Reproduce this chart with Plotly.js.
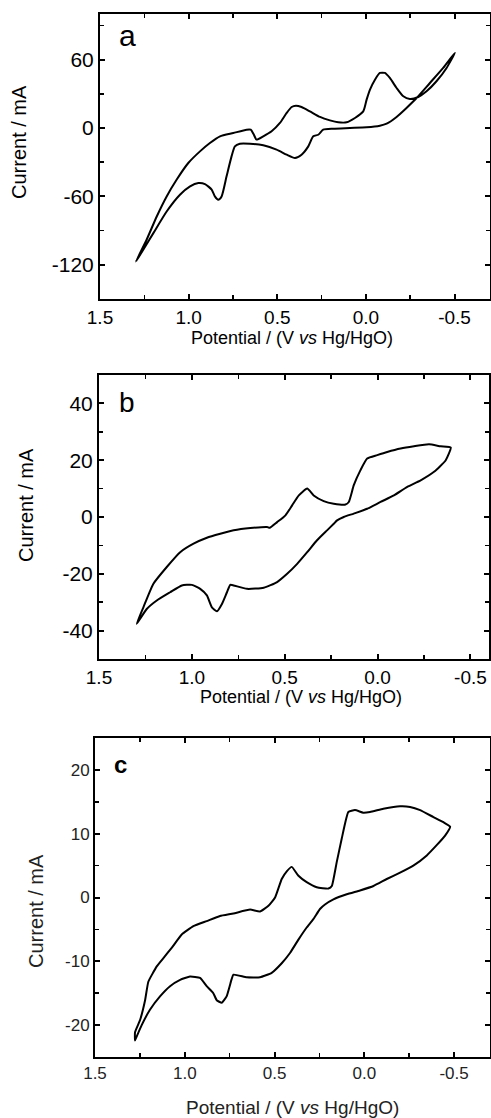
<!DOCTYPE html>
<html>
<head>
<meta charset="utf-8">
<script src="https://cdn.plot.ly/plotly-3.0.1.min.js"></script>
<style>html,body{margin:0;padding:0;background:#fff;}#chart{width:491px;height:1118px;}</style>
</head>
<body>
<div id="chart"></div>
<script>
// Panel a: cyclic voltammogram (closed loop), potential in V vs Hg/HgO, current in mA
const potA = [1.297,1.237,1.180,1.124,1.068,1.002,0.936,0.880,0.823,0.748,0.673,0.650,0.632,0.617,0.579,0.532,0.485,0.447,0.419,0.395,0.363,0.316,0.259,0.203,0.156,0.109,0.062,0.015,-0.004,-0.023,-0.051,-0.079,-0.107,-0.135,-0.173,-0.211,-0.248,-0.295,-0.342,-0.398,-0.455,-0.502,
  -0.436,-0.361,-0.286,-0.229,-0.173,-0.117,-0.079,-0.004,0.090,0.184,0.241,0.269,0.297,0.325,0.363,0.400,0.447,0.504,0.579,0.654,0.711,0.739,0.758,0.786,0.814,0.833,0.852,0.870,0.908,0.945,0.992,1.049,1.124,1.199,1.256,1.297];
const currA = [-117.1,-98.0,-77.6,-60.0,-45.4,-30.7,-20.5,-13.2,-7.3,-4.4,-1.5,-1.5,-5.9,-10.2,-7.3,-2.9,4.4,13.2,18.4,19.6,18.4,14.6,9.7,6.7,5.0,5.0,8.8,14.6,24.9,33.7,42.4,48.3,48.3,43.9,35.1,27.8,25.5,27.2,32.2,41.0,52.7,65.9,
  52.7,39.5,26.3,17.6,9.7,3.8,2.0,0.6,0.0,-0.6,-1.5,-5.9,-7.3,-16.1,-23.4,-26.3,-23.4,-19.0,-15.2,-13.8,-13.8,-16.1,-24.9,-42.4,-60.0,-62.9,-60.0,-54.1,-49.2,-48.3,-51.2,-58.5,-73.2,-92.2,-106.8,-117.1];

// Panel b
const potB = [1.297,1.261,1.207,1.135,1.063,0.991,0.919,0.847,0.775,0.685,0.595,0.581,0.541,0.496,0.460,0.424,0.379,0.344,0.290,0.236,0.173,0.155,0.128,0.092,0.056,0.002,-0.052,-0.124,-0.196,-0.277,-0.340,-0.394,
  -0.367,-0.304,-0.232,-0.160,-0.088,-0.016,0.056,0.128,0.182,0.218,0.236,0.272,0.326,0.379,0.433,0.487,0.541,0.613,0.703,0.775,0.793,0.811,0.838,0.865,0.892,0.919,0.955,1.000,1.054,1.117,1.189,1.243,1.297];
const currB = [-37.6,-31.8,-23.5,-17.6,-12.4,-9.4,-7.3,-5.9,-4.7,-3.9,-3.5,-3.8,-1.8,0.6,4.1,7.6,10.0,7.6,5.6,4.7,4.4,5.3,11.2,16.5,20.6,21.8,22.9,24.1,24.9,25.6,24.9,24.5,
  20.0,15.9,12.9,10.6,7.6,5.3,2.9,1.2,0.0,-1.2,-2.4,-4.7,-8.2,-12.4,-16.5,-20.0,-22.9,-24.9,-25.3,-24.1,-23.9,-26.5,-30.6,-33.2,-31.8,-27.6,-25.3,-23.9,-24.1,-26.5,-29.4,-32.4,-37.6];

// Panel c
const potC = [1.277,1.277,1.249,1.221,1.203,1.156,1.119,1.073,1.017,0.952,0.878,0.804,0.729,0.636,0.581,0.534,0.497,0.460,0.432,0.404,0.367,0.321,0.265,0.200,0.181,0.154,0.126,0.089,0.052,0.006,-0.032,-0.106,-0.199,-0.255,-0.311,-0.385,-0.441,-0.478,
  -0.450,-0.403,-0.348,-0.273,-0.199,-0.125,-0.051,0.024,0.098,0.172,0.219,0.247,0.284,0.321,0.367,0.414,0.460,0.516,0.581,0.655,0.729,0.739,0.767,0.794,0.822,0.841,0.878,0.915,0.971,1.026,1.082,1.138,1.194,1.240,1.268,1.277];
const currC = [-22.4,-21.1,-19.2,-16.1,-13.2,-10.8,-9.5,-7.9,-5.8,-4.5,-3.7,-2.9,-2.5,-1.9,-2.2,-1.3,0.0,2.9,4.1,4.8,3.4,2.4,1.6,1.4,1.8,5.5,9.2,13.4,13.7,13.3,13.4,13.9,14.3,14.2,13.7,12.6,11.8,11.1,
  9.7,8.2,6.6,5.0,3.9,2.9,1.8,1.1,0.5,-0.3,-1.1,-1.8,-3.4,-4.7,-6.6,-8.7,-10.3,-11.8,-12.5,-12.5,-12.1,-12.8,-15.5,-16.5,-16.1,-15.0,-13.9,-12.6,-12.4,-12.9,-13.9,-15.5,-17.6,-20.0,-21.8,-22.4];

const xTicks = [1.5, 1.0, 0.5, 0.0, -0.5];
const xTickText = ["1.5", "1.0", "0.5", "0.0", "-0.5"];
const yTicksA = [60, 0, -60, -120];
const yTicksB = [40, 20, 0, -20, -40];
const yTicksC = [20, 10, 0, -10, -20];
const panelLabels = ["a", "b", "c"];
const xTitle = "Potential / (V <i>vs</i> Hg/HgO)";
const yTitle = "Current / mA";

const FONT = "Liberation Sans, Arial, sans-serif";

function xAxis(domain, range, anchor, fontSize, color) {
  return {
    domain: domain, range: range, anchor: anchor,
    tickmode: "array", tickvals: xTicks, ticktext: xTickText,
    ticks: "inside", ticklen: 5, tickwidth: 2, tickcolor: "#000",
    minor: {dtick: 0.25, tick0: 0, ticks: "inside", ticklen: 4, tickwidth: 1.5, tickcolor: "#000"},
    showline: true, linewidth: 2, linecolor: "#000", mirror: "ticks",
    showgrid: false, zeroline: false,
    tickfont: {family: FONT, size: fontSize, color: color}
  };
}
function yAxis(domain, range, anchor, vals, dminor, fontSize, color) {
  return {
    domain: domain, range: range, anchor: anchor,
    tickmode: "array", tickvals: vals, ticktext: vals.map(v => String(v)),
    ticks: "inside", ticklen: 5, tickwidth: 2, tickcolor: "#000",
    minor: {dtick: dminor, tick0: 0, ticks: "inside", ticklen: 4, tickwidth: 1.5, tickcolor: "#000"},
    showline: true, linewidth: 2, linecolor: "#000", mirror: "ticks",
    showgrid: false, zeroline: false,
    tickfont: {family: FONT, size: fontSize, color: color}
  };
}

const H = 1118, W = 491;
const px = v => v / W;
const py = v => 1 - v / H;

const traces = [
  {x: potA, y: currA, xaxis: "x", yaxis: "y", mode: "lines", line: {color: "#000", width: 2, shape: "spline", smoothing: 0.6}, showlegend: false, hoverinfo: "skip"},
  {x: potB, y: currB, xaxis: "x2", yaxis: "y2", mode: "lines", line: {color: "#000", width: 2, shape: "spline", smoothing: 0.5}, showlegend: false, hoverinfo: "skip"},
  {x: potC, y: currC, xaxis: "x3", yaxis: "y3", mode: "lines", line: {color: "#000", width: 2, shape: "spline", smoothing: 0.4}, showlegend: false, hoverinfo: "skip"}
];

function ann(text, x, y, size, opts) {
  return Object.assign({text: text, x: px(x), y: py(y), xref: "paper", yref: "paper",
    xanchor: "center", yanchor: "middle", showarrow: false,
    font: {family: FONT, size: size, color: "#000"}}, opts || {});
}

const layout = {
  width: W, height: H,
  margin: {l: 0, r: 0, t: 0, b: 0},
  paper_bgcolor: "#fff", plot_bgcolor: "#fff",
  showlegend: false,
  xaxis: xAxis([px(100), px(490)], [1.5, -0.7], "y", 19, "#000"),
  yaxis: yAxis([py(299), py(14)], [-150, 100], "x", yTicksA, 30, 21, "#000"),
  xaxis2: xAxis([px(99), px(489)], [1.5, -0.6], "y2", 19, "#000"),
  yaxis2: yAxis([py(659), py(375)], [-50, 50], "x2", yTicksB, 10, 21, "#000"),
  xaxis3: xAxis([px(95), px(490)], [1.5, -0.7], "y3", 17, "#222"),
  yaxis3: yAxis([py(1057), py(738)], [-25, 25], "x3", yTicksC, 5, 17, "#222"),
  annotations: [
    ann(panelLabels[0], 128, 36, 30),
    ann(panelLabels[1], 127, 402, 28),
    ann("<b>" + panelLabels[2] + "</b>", 120, 764, 24),
    ann(xTitle, 292, 338, 18),
    ann(xTitle, 301, 697, 18),
    ann(xTitle, 292, 1107, 19, {font: {family: FONT, size: 19, color: "#222"}}),
    ann(yTitle, 19, 142, 20, {textangle: -90}),
    ann(yTitle, 26, 505, 20, {textangle: -90}),
    ann(yTitle, 36, 911, 20, {textangle: -90, font: {family: FONT, size: 20, color: "#222"}})
  ]
};

Plotly.newPlot("chart", traces, layout, {staticPlot: true, displayModeBar: false});
</script>
</body>
</html>
